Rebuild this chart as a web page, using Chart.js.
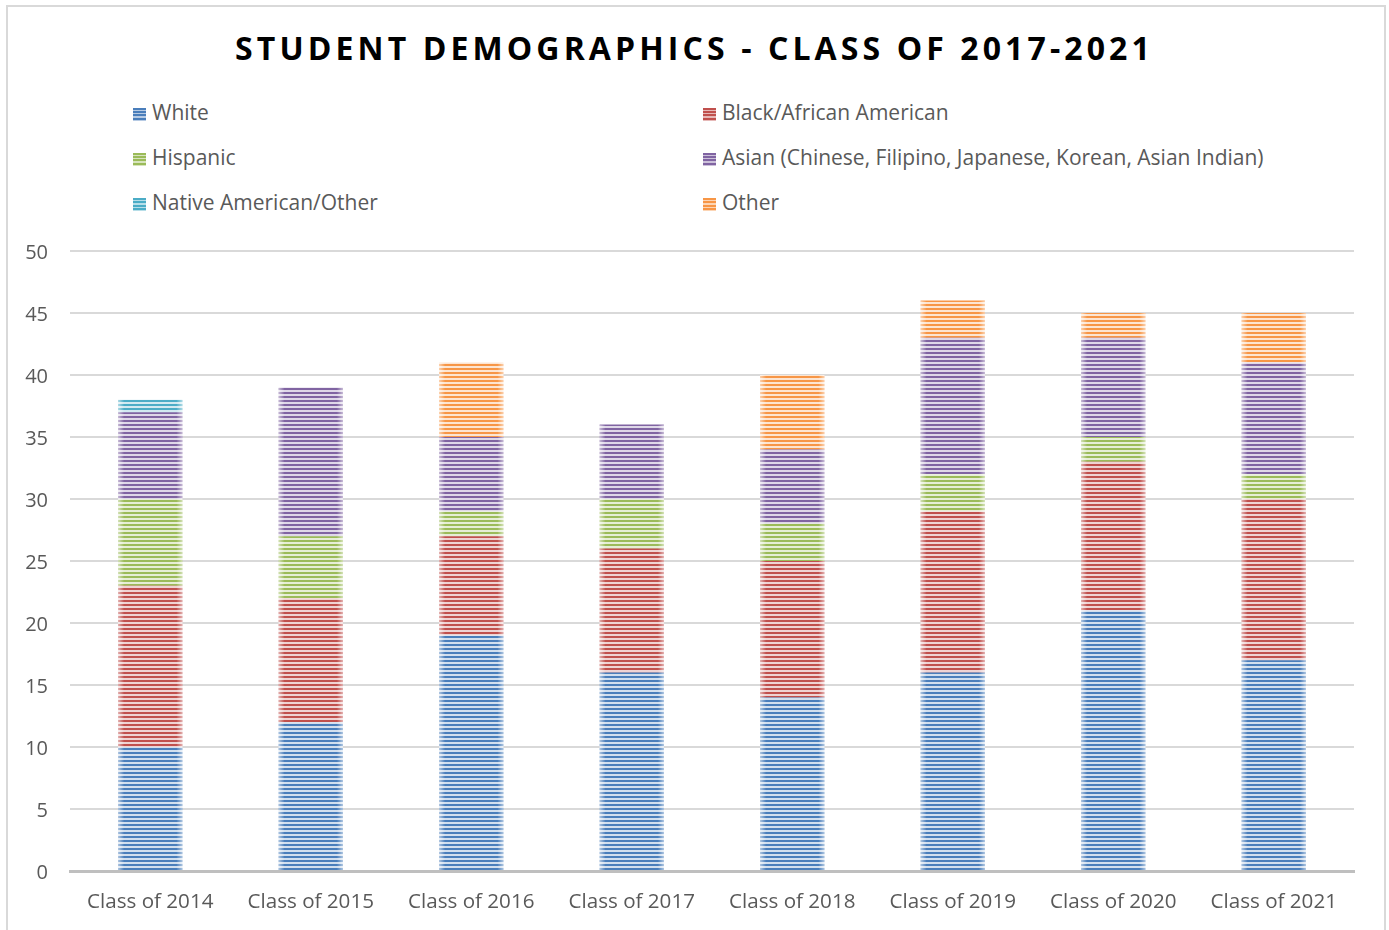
<!DOCTYPE html>
<html>
<head>
<meta charset="utf-8">
<script src="https://cdn.jsdelivr.net/npm/chart.js@4"></script>
<style>
  html, body { margin: 0; padding: 0; background: #fff; }
  #wrap { position: relative; width: 1389px; height: 930px; overflow: hidden; font-family: "Open Sans", sans-serif; }
  #frame { position: absolute; left: 6px; top: 5px; width: 1376px; height: 940px; border: 2px solid #d9d9d9; }
  #title { position: absolute; left: 0; top: 26px; width: 1389px; text-align: center; font-size: 32px; font-weight: 700; letter-spacing: 4.1px; color: #000; line-height: 44px; }
  .leg { position: absolute; font-size: 21px; color: #595959; line-height: 26px; white-space: nowrap; }
  .sw { display: inline-block; width: 13px; height: 13px; margin-right: 6px; vertical-align: -1px; }
  #chart { position: absolute; left: 0; top: 0; }
</style>
</head>
<body>
<div id="wrap">
  <div id="frame"></div>
  <div id="title">STUDENT DEMOGRAPHICS - CLASS OF 2017-2021</div>
  <div id="legend"></div>
  <canvas id="chart" width="1389" height="930"></canvas>
</div>
<script>
// Data
const classes = ['Class of 2014', 'Class of 2015', 'Class of 2016', 'Class of 2017', 'Class of 2018', 'Class of 2019', 'Class of 2020', 'Class of 2021'];
const white    = [10, 12, 19, 16, 14, 16, 21, 17];
const black    = [13, 10,  8, 10, 11, 13, 12, 13];
const hispanic = [ 7,  5,  2,  4,  3,  3,  2,  2];
const asian    = [ 7, 12,  6,  6,  6, 11,  8,  9];
const native   = [ 1,  0,  0,  0,  0,  0,  0,  0];
const other    = [ 0,  0,  6,  0,  6,  3,  2,  4];
const yTicks   = [0, 5, 10, 15, 20, 25, 30, 35, 40, 45, 50];

const seriesNames = ['White', 'Black/African American', 'Hispanic', 'Asian (Chinese, Filipino, Japanese, Korean, Asian Indian)', 'Native American/Other', 'Other'];
const seriesData = [white, black, hispanic, asian, native, other];
const seriesColors = ['#4a7ebb', '#c0504d', '#9bbb59', '#8064a2', '#4bacc6', '#f79646'];

// light version of a colour (mixed with white)
function tint(hex, k) {
    const n = parseInt(hex.slice(1), 16);
    const r = (n >> 16) & 255, g = (n >> 8) & 255, b = n & 255;
    const m = c => Math.round(c + (255 - c) * k);
    return `rgb(${m(r)}, ${m(g)}, ${m(b)})`;
}

// horizontal stripe pattern, 2px colour / 2px light
function stripes(hex) {
    const c = document.createElement('canvas');
    c.width = 4; c.height = 4;
    const x = c.getContext('2d');
    x.fillStyle = tint(hex, 0.75);
    x.fillRect(0, 0, 4, 4);
    x.fillStyle = hex;
    x.fillRect(0, 0, 4, 2);
    return x.createPattern(c, 'repeat');
}

// HTML legend, two columns
const legendPos = [[133, 99], [703, 99], [133, 144], [703, 144], [133, 189], [703, 189]];
const legendEl = document.getElementById('legend');
seriesNames.forEach((name, i) => {
    const d = document.createElement('div');
    d.className = 'leg';
    d.style.left = legendPos[i][0] + 'px';
    d.style.top = legendPos[i][1] + 'px';
    const col = seriesColors[i], lt = tint(col, 0.6);
    d.innerHTML = `<span class="sw" style="background: repeating-linear-gradient(to bottom, ${col} 0 2px, ${lt} 2px 3.25px);"></span>${name}`;
    legendEl.appendChild(d);
});

// soft light edges on each bar, like the reference
const softEdges = {
    id: 'softEdges',
    afterDatasetsDraw(chart) {
        const ctx = chart.ctx;
        chart.data.datasets.forEach((ds, i) => {
            const meta = chart.getDatasetMeta(i);
            meta.data.forEach(bar => {
                const p = bar.getProps(['x', 'y', 'base', 'width'], true);
                if (Math.abs(p.base - p.y) < 0.5) return;
                const l = p.x - p.width / 2, r = p.x + p.width / 2;
                const top = Math.min(p.y, p.base), h = Math.abs(p.base - p.y);
                const e = 6;
                let g = ctx.createLinearGradient(l, 0, l + e, 0);
                g.addColorStop(0, 'rgba(255,255,255,0.55)');
                g.addColorStop(1, 'rgba(255,255,255,0)');
                ctx.fillStyle = g;
                ctx.fillRect(l, top, e, h);
                g = ctx.createLinearGradient(r, 0, r - e, 0);
                g.addColorStop(0, 'rgba(255,255,255,0.55)');
                g.addColorStop(1, 'rgba(255,255,255,0)');
                ctx.fillStyle = g;
                ctx.fillRect(r - e, top, e, h);
            });
        });
    }
};

const ctx = document.getElementById('chart');
new Chart(ctx, {
    type: 'bar',
    data: {
        labels: classes,
        datasets: seriesData.map((d, i) => ({
            label: seriesNames[i],
            data: d,
            backgroundColor: stripes(seriesColors[i]),
            borderWidth: 0,
            categoryPercentage: 1,
            barPercentage: 0.4
        }))
    },
    options: {
        responsive: false,
        animation: false,
        layout: { padding: { top: 251, left: 0, right: 35, bottom: 0 } },
        plugins: {
            legend: { display: false },
            title: { display: false },
            tooltip: { enabled: false }
        },
        scales: {
            x: {
                stacked: true,
                grid: { display: false, drawTicks: false },
                border: { color: '#bfbfbf', width: 3 },
                ticks: { color: '#595959', font: { family: 'Open Sans', size: 20.6 }, padding: 19, maxRotation: 0 },
                afterFit(s) { s.height = 930 - 871; }
            },
            y: {
                stacked: true,
                min: 0,
                max: 50,
                afterBuildTicks(s) { s.ticks = yTicks.map(v => ({ value: v })); },
                grid: { color: '#d9d9d9', lineWidth: 2, drawTicks: false },
                border: { display: false },
                ticks: { color: '#595959', font: { family: 'Open Sans', size: 20 }, padding: 22, labelOffset: 2 },
                afterFit(s) { s.width = 70; }
            }
        }
    },
    plugins: [softEdges]
});
</script>
</body>
</html>
